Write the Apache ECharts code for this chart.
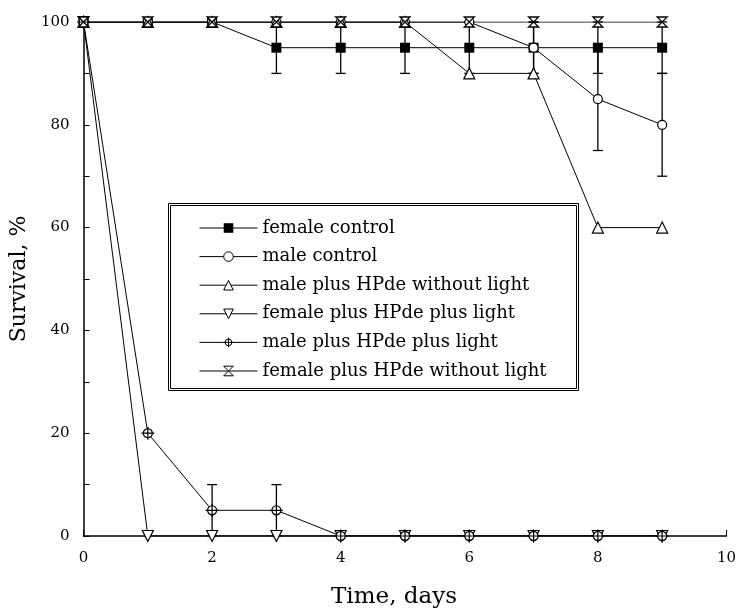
<!DOCTYPE html>
<html>
<head>
<meta charset="utf-8">
<script src="https://cdn.jsdelivr.net/npm/echarts@6/dist/echarts.min.js"></script>
<style>
html, body { margin: 0; padding: 0; background: #fff; }
#main { width: 739px; height: 614px; }
</style>
</head>
<body>
<div id="main"></div>
<script>
// data
var days = [0, 1, 2, 3, 4, 5, 6, 7, 8, 9];
var femaleControl = [100, 100, 100, 95, 95, 95, 95, 95, 95, 95];
var femaleControlErr = [0, 0, 0, 5, 5, 5, 5, 5, 5, 5];
var maleControl = [100, 100, 100, 100, 100, 100, 100, 95, 85, 80];
var maleControlErr = [0, 0, 0, 0, 0, 0, 0, 5, 10, 10];
var maleHPdeDark = [100, 100, 100, 100, 100, 100, 90, 90, 60, 60];
var femaleHPdeLight = [100, 0, 0, 0, 0, 0, 0, 0, 0, 0];
var maleHPdeLight = [100, 20, 5, 5, 0, 0, 0, 0, 0, 0];
var maleHPdeLightErr = [0, 0, 5, 5, 0, 0, 0, 0, 0, 0];
var femaleHPdeDark = [100, 100, 100, 100, 100, 100, 100, 100, 100, 100];

var names = ['female control', 'male control', 'male plus HPde without light',
    'female plus HPde plus light', 'male plus HPde plus light', 'female plus HPde without light'];
var xTicks = [0, 2, 4, 6, 8, 10];
var yTicks = [0, 20, 40, 60, 80, 100];

var font = 'DejaVu Serif';
var crossCircle = 'path://M3,10A7,7 0 1,1 17,10A7,7 0 1,1 3,10Z M10,0L10,20 M0,10L20,10';
var hourglass = 'path://M0,0L20,0L0,20L20,20Z';

function pairs(ys) {
    var out = [];
    for (var i = 0; i < days.length; i++) out.push([days[i], ys[i]]);
    return out;
}

// error bars: [x, low, high]
var errData = [];
function addErr(ys, errs) {
    for (var i = 0; i < days.length; i++) {
        if (errs[i] > 0) errData.push([days[i], ys[i] - errs[i], ys[i] + errs[i]]);
    }
}
addErr(femaleControl, femaleControlErr);
addErr(maleControl, maleControlErr);
addErr(maleHPdeLight, maleHPdeLightErr);

function renderErr(params, api) {
    var x = api.value(0);
    var top = api.coord([x, api.value(2)]);
    var bot = api.coord([x, api.value(1)]);
    var w = 5;
    var st = { stroke: '#000', lineWidth: 1.3 };
    return {
        type: 'group',
        children: [
            { type: 'line', shape: { x1: top[0], y1: top[1], x2: bot[0], y2: bot[1] }, style: st },
            { type: 'line', shape: { x1: top[0] - w, y1: top[1], x2: top[0] + w, y2: top[1] }, style: st },
            { type: 'line', shape: { x1: bot[0] - w, y1: bot[1], x2: bot[0] + w, y2: bot[1] }, style: st }
        ]
    };
}

function lineSeries(name, ys, symbol, size, item, extra) {
    var s = {
        name: name,
        type: 'line',
        data: pairs(ys),
        symbol: symbol,
        symbolSize: size,
        showAllSymbol: true,
        lineStyle: { color: '#000', width: 1 },
        itemStyle: item,
        z: 3,
        animation: false
    };
    if (extra) for (var k in extra) s[k] = extra[k];
    return s;
}

var chart = echarts.init(document.getElementById('main'));
var option = {
    backgroundColor: '#fff',
    animation: false,
    grid: { left: 82, right: 9, top: 22, bottom: 78 },
    graphic: [
        { type: 'rect', shape: { x: 168.5, y: 203.5, width: 410, height: 187 },
          style: { fill: '#fff', stroke: '#000', lineWidth: 1 } },
        { type: 'rect', shape: { x: 170.5, y: 205.5, width: 406, height: 183 },
          style: { fill: 'none', stroke: '#000', lineWidth: 1 } }
    ],
    legend: {
        data: names,
        orient: 'vertical',
        left: 199,
        top: 219,
        padding: 0,
        itemWidth: 58,
        itemHeight: 12,
        itemGap: 10.6,
        selectedMode: false,
        lineStyle: { width: 1 },
        itemStyle: { borderWidth: 1 },
        textStyle: { fontFamily: font, fontSize: 18, color: '#000' }
    },
    xAxis: {
        type: 'value',
        min: xTicks[0],
        max: xTicks[xTicks.length - 1],
        interval: xTicks[1] - xTicks[0],
        name: 'Time, days',
        nameLocation: 'middle',
        nameGap: 50,
        nameTextStyle: { fontFamily: font, fontSize: 23, color: '#000', padding: [0, 22, 0, 0] },
        axisLine: { lineStyle: { color: '#000', width: 1.5 } },
        axisTick: { inside: true, length: 6, lineStyle: { color: '#000' } },
        axisLabel: { fontFamily: font, fontSize: 15, color: '#000', margin: 15 },
        splitLine: { show: false }
    },
    yAxis: {
        type: 'value',
        min: yTicks[0],
        max: yTicks[yTicks.length - 1],
        // ticks every half step, labels only at yTicks
        interval: (yTicks[1] - yTicks[0]) / 2,
        name: 'Survival, %',
        nameLocation: 'middle',
        nameGap: 45,
        nameTextStyle: { fontFamily: font, fontSize: 22, color: '#000' },
        axisLine: { show: true, lineStyle: { color: '#000', width: 1.5 } },
        axisTick: { show: true, inside: true, length: 6, lineStyle: { color: '#000' } },
        axisLabel: {
            fontFamily: font, fontSize: 15, color: '#000', margin: 14,
            formatter: function (v) { return yTicks.indexOf(v) >= 0 ? String(v) : ''; }
        },
        splitLine: { show: false }
    },
    series: [
        {
            name: 'errors',
            type: 'custom',
            renderItem: renderErr,
            data: errData,
            z: 2,
            silent: true
        },
        lineSeries(names[0], femaleControl, 'rect', 10, { color: '#000' }),
        lineSeries(names[1], maleControl, 'circle', 9, { color: '#fff', borderColor: '#000', borderWidth: 1.2 }),
        lineSeries(names[2], maleHPdeDark, 'triangle', 11, { color: '#fff', borderColor: '#000', borderWidth: 1.2 }),
        lineSeries(names[3], femaleHPdeLight, 'triangle', 11, { color: '#fff', borderColor: '#000', borderWidth: 1.2 }, { symbolRotate: 180 }),
        lineSeries(names[4], maleHPdeLight, crossCircle, 13, { color: '#fff', borderColor: '#000', borderWidth: 1.2 }),
        lineSeries(names[5], femaleHPdeDark, hourglass, 10, { color: '#fff', borderColor: '#000', borderWidth: 1.3 })
    ]
};
chart.setOption(option);
</script>
</body>
</html>
